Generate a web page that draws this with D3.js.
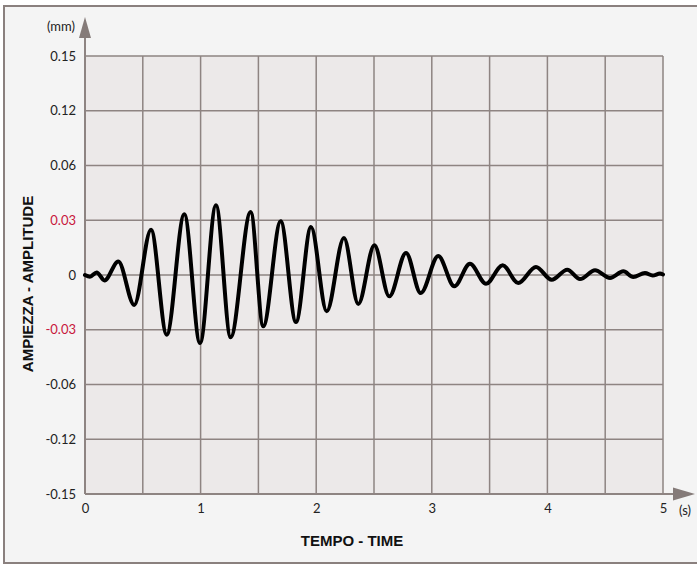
<!DOCTYPE html>
<html>
<head>
<meta charset="utf-8">
<script src="https://cdn.jsdelivr.net/npm/d3@7"></script>
<style>
  html, body { margin: 0; padding: 0; background: #fff; }
  svg { display: block; }
  .tick text { font-family: Lato, "Open Sans", sans-serif; font-size: 13px; fill: #222; }
  .title { font-family: "Liberation Sans", Arial, sans-serif; font-weight: bold; font-size: 15px; fill: #111; }
  .unit { font-family: Lato, "Open Sans", sans-serif; font-size: 13px; fill: #222; }
</style>
</head>
<body>
<svg id="chart" width="697" height="564"></svg>
<script>
// y tick levels (equally spaced on the chart, not linear in value)
const yTicks = [0.15, 0.12, 0.06, 0.03, 0, -0.03, -0.06, -0.12, -0.15];
const yRedTicks = [0.03, -0.03];
const xLabels = [0, 1, 2, 3, 4, 5];
const xGrid = [0, 0.5, 1, 1.5, 2, 2.5, 3, 3.5, 4, 4.5, 5];

// waveform, read at its turning points (time in s, amplitude in mm)
const time = [0, 0.043, 0.101, 0.169, 0.288, 0.426, 0.571, 0.707, 0.859, 0.995,
  1.133, 1.260, 1.433, 1.542, 1.693, 1.825, 1.955, 2.091, 2.240, 2.364,
  2.503, 2.632, 2.777, 2.904, 3.056, 3.195, 3.330, 3.469, 3.613, 3.748,
  3.901, 4.037, 4.172, 4.282, 4.412, 4.542, 4.657, 4.743, 4.844, 4.911,
  4.974, 5.0];
const amplitude = [0, -0.0009, 0.0014, -0.0030, 0.0074, -0.0164, 0.0248, -0.0327, 0.0333, -0.0373,
  0.0382, -0.0341, 0.0345, -0.0281, 0.0294, -0.0258, 0.0263, -0.0199, 0.0203, -0.0159,
  0.0163, -0.0117, 0.0121, -0.0099, 0.0104, -0.0062, 0.0062, -0.0048, 0.0053, -0.0044,
  0.0044, -0.0026, 0.0029, -0.0022, 0.0026, -0.0016, 0.0020, -0.0011, 0.0011, -0.0003,
  0.0008, 0.0003];

const margin = { left: 85, top: 56, right: 663, bottom: 494 };
const svg = d3.select('#chart');

// outer panel
svg.append('rect')
  .attr('x', 4).attr('y', 6).attr('width', 720).attr('height', 557)
  .attr('fill', '#f4f4f4').attr('stroke', '#8a807e').attr('stroke-width', 2);

const x = d3.scaleLinear().domain([0, 5]).range([margin.left, margin.right]);

// piecewise scale: each tick step takes the same height
const yStep = (margin.bottom - margin.top) / (yTicks.length - 1);
const y = d3.scaleLinear()
  .domain(yTicks.slice().reverse())
  .range(yTicks.map((d, i) => margin.bottom - i * yStep));

const gridColor = '#8e8482';

svg.append('rect')
  .attr('x', x(0)).attr('y', y(0.15))
  .attr('width', x(5) - x(0)).attr('height', y(-0.15) - y(0.15))
  .attr('fill', '#ece9e9');

// grid
svg.append('g').selectAll('line.v')
  .data(xGrid).enter().append('line')
  .attr('x1', d => x(d)).attr('x2', d => x(d))
  .attr('y1', y(0.15)).attr('y2', y(-0.15))
  .attr('stroke', gridColor).attr('stroke-width', 1.5);

svg.append('g').selectAll('line.h')
  .data(yTicks).enter().append('line')
  .attr('x1', x(0)).attr('x2', x(5))
  .attr('y1', d => y(d)).attr('y2', d => y(d))
  .attr('stroke', gridColor).attr('stroke-width', 1.5);

// axis lines with arrows
svg.append('line')
  .attr('x1', x(0)).attr('x2', x(0))
  .attr('y1', y(-0.15)).attr('y2', 36)
  .attr('stroke', gridColor).attr('stroke-width', 2);
svg.append('path')
  .attr('d', `M${x(0)},17 L${x(0) - 6},38 L${x(0) + 6},38 Z`)
  .attr('fill', '#857b79');

svg.append('line')
  .attr('x1', x(0)).attr('x2', 675)
  .attr('y1', y(-0.15)).attr('y2', y(-0.15))
  .attr('stroke', gridColor).attr('stroke-width', 2);
svg.append('path')
  .attr('d', `M695,${y(-0.15)} L673,${y(-0.15) - 6.5} L673,${y(-0.15) + 6.5} Z`)
  .attr('fill', '#857b79');

// axes (labels only)
const yAxis = svg.append('g')
  .attr('transform', `translate(${x(0)},0)`)
  .call(d3.axisLeft(y).tickValues(yTicks).tickSize(0).tickPadding(9)
    .tickFormat(d => d === 0 ? '0' : String(d)));
yAxis.select('.domain').remove();
yAxis.selectAll('.tick text')
  .style('fill', d => yRedTicks.includes(d) ? '#c8173c' : '#222');

const xAxis = svg.append('g')
  .attr('transform', `translate(0,${y(-0.15)})`)
  .call(d3.axisBottom(x).tickValues(xLabels).tickSize(0).tickPadding(10)
    .tickFormat(d3.format('d')));
xAxis.select('.domain').remove();

svg.append('text').attr('class', 'unit')
  .attr('x', 75).attr('y', 31).attr('text-anchor', 'end').text('(mm)');
svg.append('text').attr('class', 'unit')
  .attr('x', 685).attr('y', 515).attr('text-anchor', 'middle').text('(s)');

svg.append('text').attr('class', 'title')
  .attr('x', 352).attr('y', 546).attr('text-anchor', 'middle').text('TEMPO - TIME');
svg.append('text').attr('class', 'title')
  .attr('transform', 'translate(33,284) rotate(-90)')
  .attr('text-anchor', 'middle').text('AMPIEZZA - AMPLITUDE');

// waveform
const line = d3.line()
  .x(i => x(time[i]))
  .y(i => y(amplitude[i]))
  .curve(d3.curveMonotoneX);

svg.append('path')
  .attr('d', line(d3.range(time.length)))
  .attr('fill', 'none').attr('stroke', '#000')
  .attr('stroke-width', 4).attr('stroke-linejoin', 'round').attr('stroke-linecap', 'round');
</script>
</body>
</html>
